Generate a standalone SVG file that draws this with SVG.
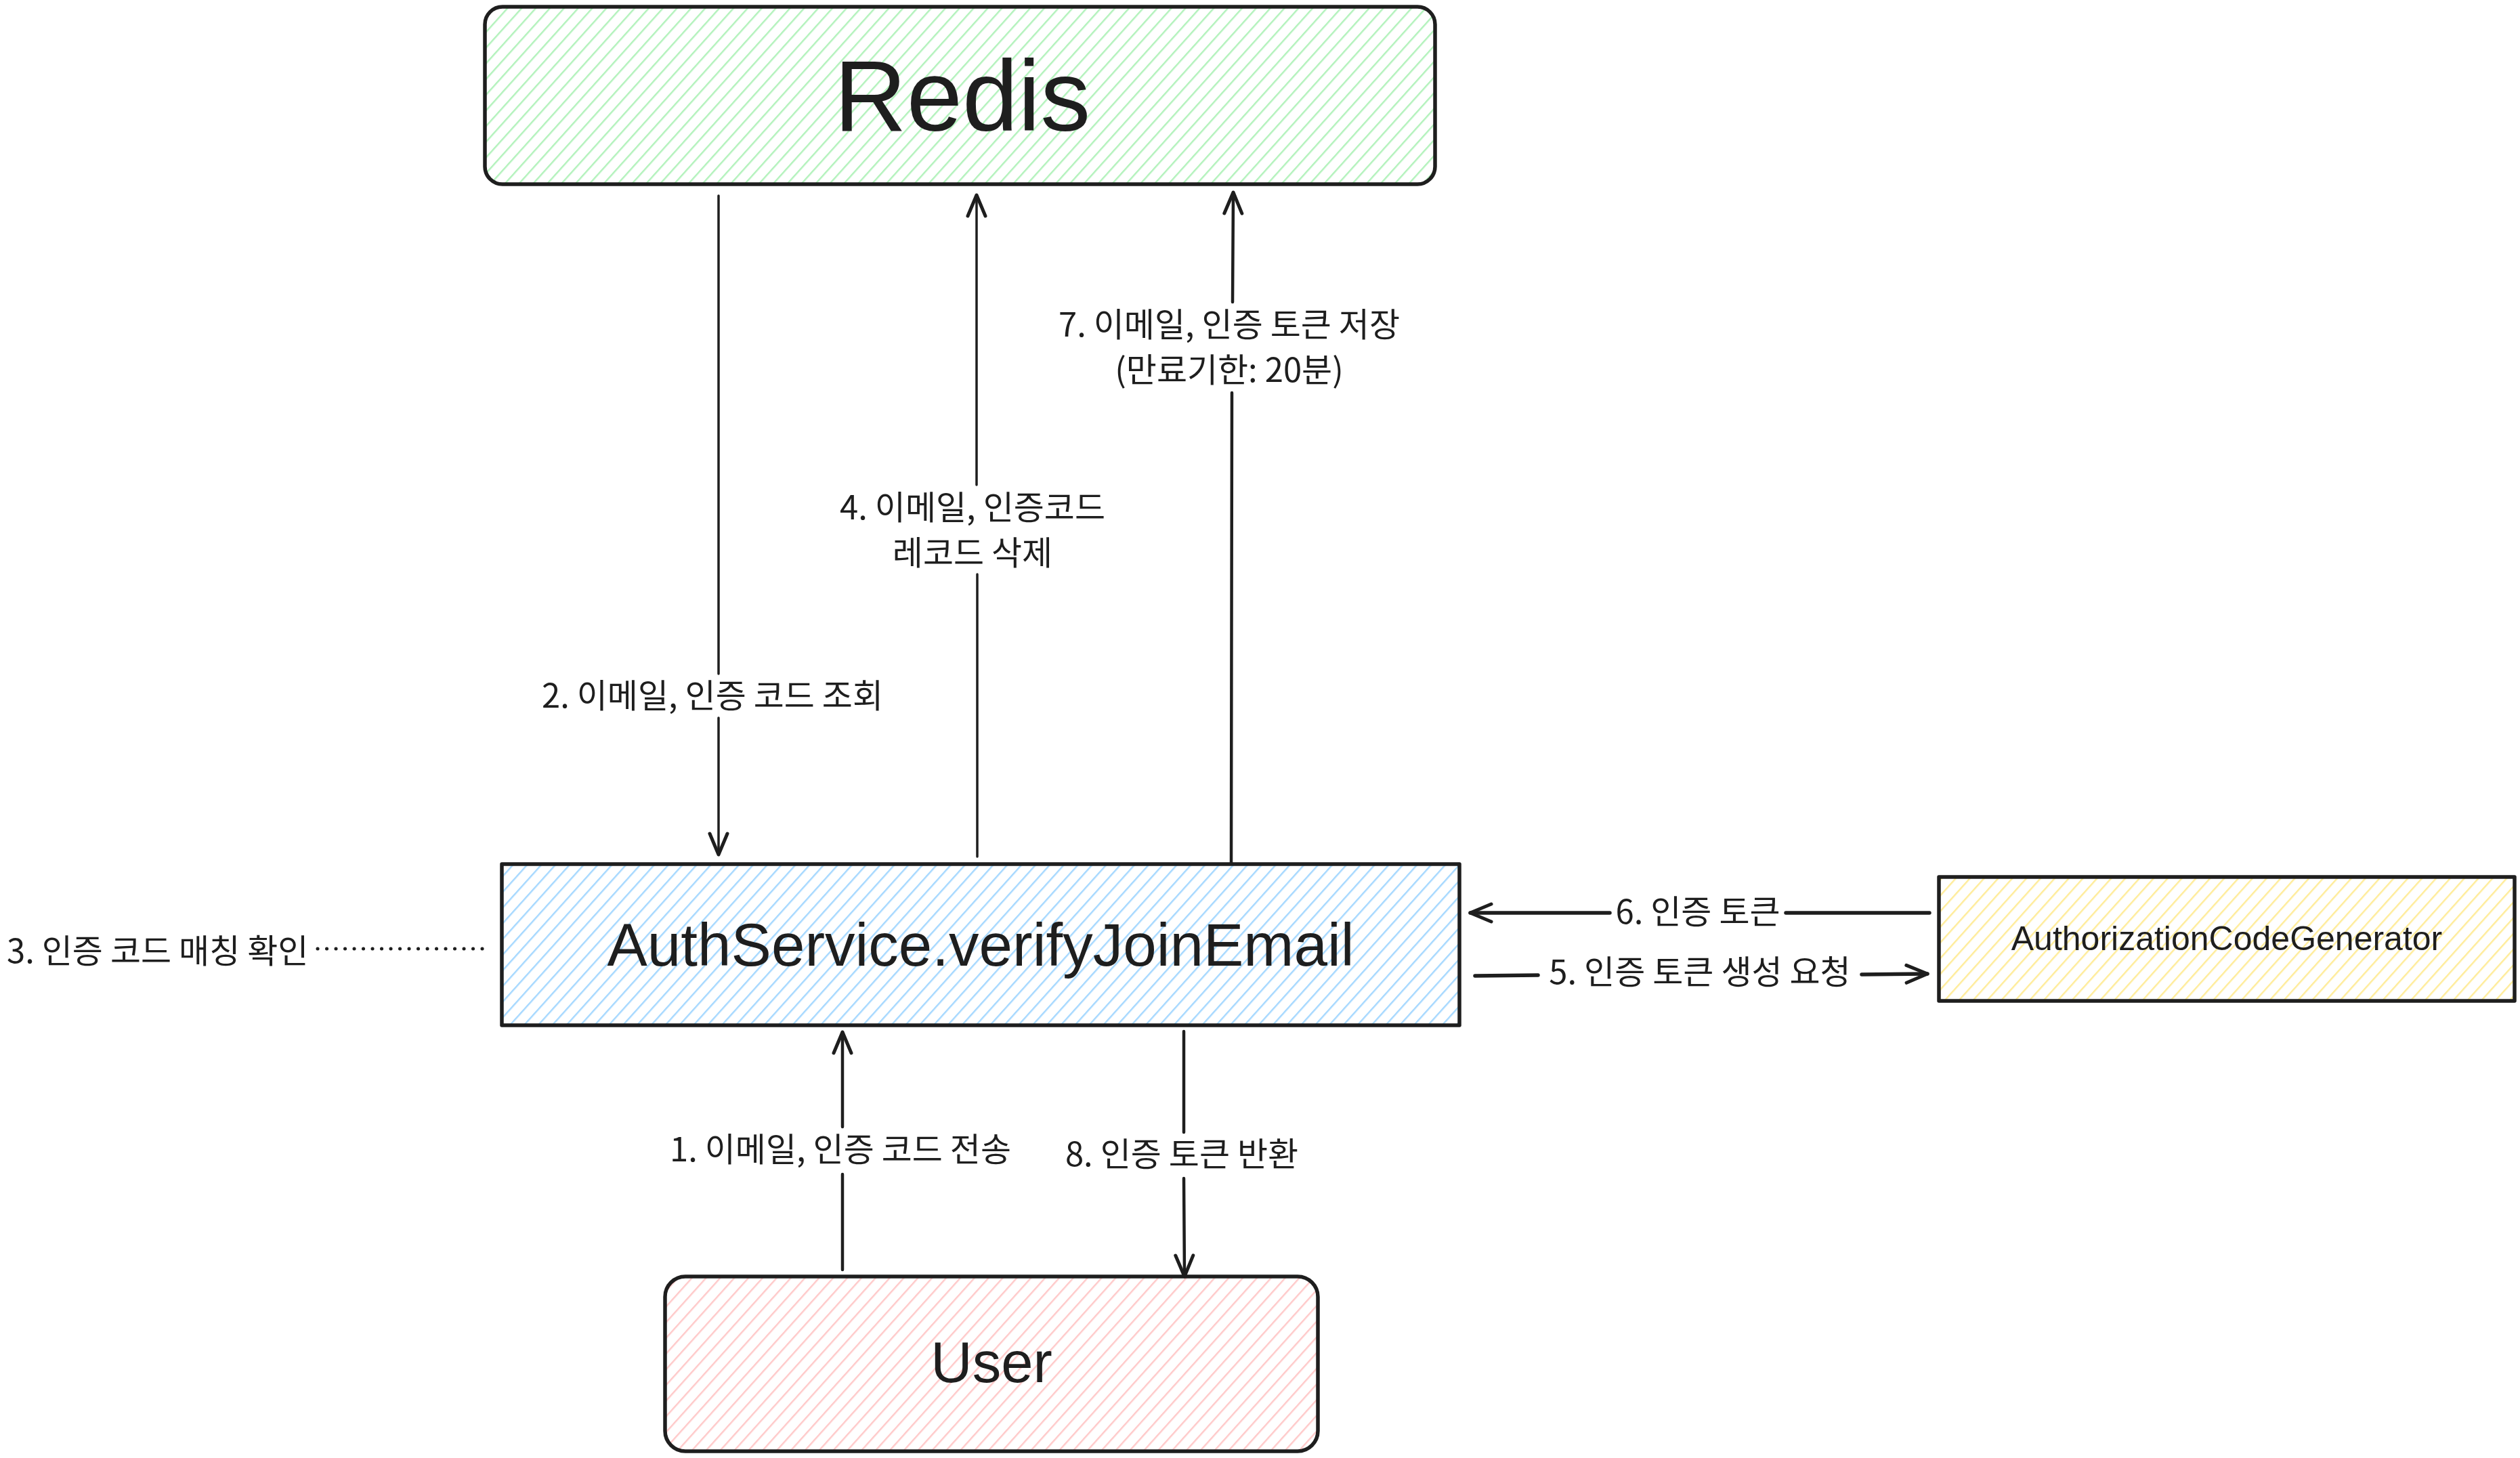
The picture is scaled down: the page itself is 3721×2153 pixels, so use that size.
<svg xmlns="http://www.w3.org/2000/svg" width="3721" height="2153" viewBox="0 0 3721 2153">
<style>
.box{stroke:#1e1e1e;stroke-width:5.5;stroke-linejoin:round}
.lbl{font-family:"Noto Sans CJK KR","Noto Sans",sans-serif;font-size:49px;fill:#1e1e1e}
.title{font-family:"Liberation Sans","Noto Sans CJK KR",sans-serif;fill:#1e1e1e;text-anchor:middle}
.conn{fill:none;stroke:#1e1e1e;stroke-linecap:round;stroke-linejoin:round}
</style>
<defs>
<pattern id="hG" patternUnits="userSpaceOnUse" width="60" height="15.5" patternTransform="rotate(-48)"><rect width="60" height="15.5" fill="#ffffff"/><line x1="0" y1="7" x2="60" y2="7" stroke="#b2f2bb" stroke-width="2.6"/></pattern>
<pattern id="hB" patternUnits="userSpaceOnUse" width="60" height="15.5" patternTransform="rotate(-48)"><rect width="60" height="15.5" fill="#ffffff"/><line x1="0" y1="7" x2="60" y2="7" stroke="#a5d8ff" stroke-width="2.6"/></pattern>
<pattern id="hP" patternUnits="userSpaceOnUse" width="60" height="15.5" patternTransform="rotate(-48)"><rect width="60" height="15.5" fill="#ffffff"/><line x1="0" y1="7" x2="60" y2="7" stroke="#ffc9c9" stroke-width="2.6"/></pattern>
<pattern id="hY" patternUnits="userSpaceOnUse" width="60" height="15.5" patternTransform="rotate(-48)"><rect width="60" height="15.5" fill="#ffffff"/><line x1="0" y1="7" x2="60" y2="7" stroke="#ffec99" stroke-width="2.6"/></pattern>
<marker id="ah" markerUnits="userSpaceOnUse" viewBox="-40 -20 45 40" refX="0" refY="0" markerWidth="45" markerHeight="40" orient="auto" overflow="visible">
<path d="M -31 -13 L 0 0 L -31 13" fill="none" stroke="#1e1e1e" stroke-width="5" stroke-linecap="round" stroke-linejoin="round"/>
</marker>
</defs>
<rect width="3721" height="2153" fill="#ffffff"/>

<g id="redis">
<rect class="box" x="716" y="10" width="1403" height="262" rx="26" fill="url(#hG)"/>
<text class="title" x="1421" y="193" font-size="148">Redis</text>
</g>

<g id="authservice">
<rect class="box" x="741" y="1276" width="1414" height="238" fill="url(#hB)"/>
<text class="title" x="1448" y="1426" font-size="89">AuthService.verifyJoinEmail</text>
</g>

<g id="user">
<rect class="box" x="982" y="1885" width="964" height="258" rx="30" fill="url(#hP)"/>
<text class="title" x="1464" y="2041" font-size="85">User</text>
</g>

<g id="generator">
<rect class="box" x="2863" y="1295" width="850" height="183" fill="url(#hY)"/>
<text class="title" x="3288" y="1403" font-size="50">AuthorizationCodeGenerator</text>
</g>

<g id="connectors">
<path class="conn" stroke-width="3.5" d="M1061 289 L1061 995 M1061 1060 L1061 1262" marker-end="url(#ah)"/>
<path class="conn" stroke-width="3.5" d="M1443 1265 L1443 848 M1442 716 L1442 288" marker-end="url(#ah)"/>
<path class="conn" stroke-width="4.5" d="M1818 1274 L1819 580 M1820 446 L1821 284" marker-end="url(#ah)"/>
<path class="conn" stroke-width="4.5" d="M1244 1875 L1244 1734 M1244 1664 L1244 1524" marker-end="url(#ah)"/>
<path class="conn" stroke-width="4.5" d="M1748 1523 L1748 1672 M1748 1740 L1749 1885" marker-end="url(#ah)"/>
<path class="conn" stroke-width="5.5" d="M2849 1348 L2637 1348 M2377 1348 L2171 1348" marker-end="url(#ah)"/>
<path class="conn" stroke-width="5.5" d="M2178 1441 L2271 1440 M2749 1439 L2846 1438" marker-end="url(#ah)"/>
<path class="conn" stroke-width="5" stroke-dasharray="0.1 13.4" d="M469 1401 L725 1401"/>
</g>

<g id="labels">
<text class="lbl" x="1052" y="1045" text-anchor="middle">2. 이메일, 인증 코드 조회</text>
<text class="lbl" x="1436" y="767" text-anchor="middle">4. 이메일, 인증코드</text>
<text class="lbl" x="1436" y="834" text-anchor="middle">레코드 삭제</text>
<text class="lbl" x="1815" y="497" text-anchor="middle">7. 이메일, 인증 토큰 저장</text>
<text class="lbl" x="1815" y="564" text-anchor="middle">(만료기한: 20분)</text>
<text class="lbl" x="1241" y="1715" text-anchor="middle">1. 이메일, 인증 코드 전송</text>
<text class="lbl" x="1745" y="1722" text-anchor="middle">8. 인증 토큰 반환</text>
<text class="lbl" x="2507" y="1364" text-anchor="middle">6. 인증 토큰</text>
<text class="lbl" x="2510" y="1453" text-anchor="middle">5. 인증 토큰 생성 요청</text>
<text class="lbl" x="10" y="1422">3. 인증 코드 매칭 확인</text>
</g>
</svg>
